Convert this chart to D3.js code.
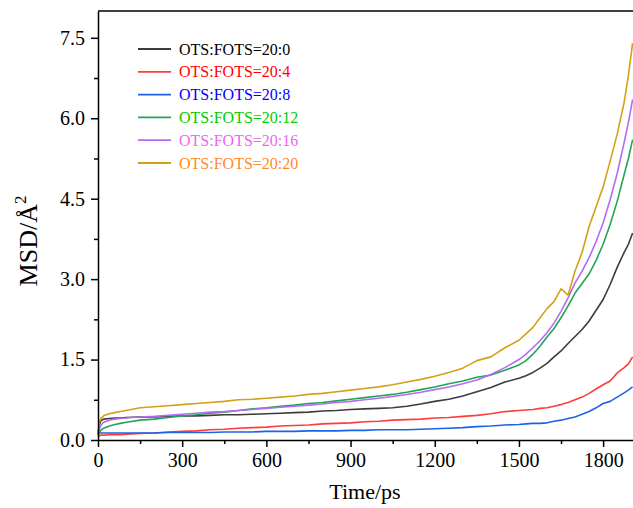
<!DOCTYPE html>
<html>
<head>
<meta charset="utf-8">
<script src="https://cdn.jsdelivr.net/npm/d3@7"></script>
<style>
  body { margin: 0; background: #fff; }
  svg { display: block; }
  text { font-family: "Liberation Serif", "Times New Roman", serif; }
  .axis path, .axis line { stroke: #000; stroke-width: 1.5; }
  .axis text { font-size: 20px; fill: #000; }
  .title { font-size: 22px; fill: #000; }
  .legend text { font-size: 16px; }
</style>
</head>
<body>
<svg id="msd" width="633" height="508"></svg>
<script>
// time axis (ps), shared by all series
var times = [0, 5, 10, 20, 40, 60, 80, 100,
  150, 200, 250, 300, 350, 400, 450, 500, 550, 600, 650, 700, 750, 800, 850, 900, 950, 1000, 1050, 1100, 1150, 1200,
  1250, 1300, 1350, 1400, 1450, 1500, 1525, 1550, 1575, 1600, 1625, 1650, 1675, 1700, 1725, 1750, 1775, 1800, 1825, 1850, 1875, 1890, 1905];

var ratio_20_0 = [0.10, 0.28, 0.36, 0.39, 0.40, 0.41, 0.41, 0.42,
  0.43, 0.43, 0.44, 0.45, 0.45, 0.46, 0.47, 0.47, 0.48, 0.49, 0.50, 0.51, 0.52, 0.54, 0.55, 0.57, 0.58, 0.59, 0.60, 0.63, 0.67, 0.72,
  0.76, 0.82, 0.90, 0.98, 1.08, 1.15, 1.20, 1.26, 1.34, 1.43, 1.55, 1.66, 1.80, 1.93, 2.06, 2.22, 2.42, 2.62, 2.90, 3.22, 3.50, 3.65, 3.86];

var ratio_20_4 = [0.08, 0.08, 0.09, 0.09, 0.10, 0.10, 0.10, 0.11,
  0.12, 0.13, 0.15, 0.16, 0.17, 0.19, 0.20, 0.22, 0.23, 0.24, 0.26, 0.27, 0.28, 0.30, 0.31, 0.32, 0.34, 0.35, 0.37, 0.38, 0.39, 0.41,
  0.42, 0.44, 0.46, 0.49, 0.53, 0.55, 0.56, 0.57, 0.59, 0.60, 0.63, 0.66, 0.70, 0.75, 0.80, 0.87, 0.95, 1.03, 1.10, 1.25, 1.35, 1.42, 1.55];

var ratio_20_8 = [0.12, 0.13, 0.13, 0.13, 0.13, 0.13, 0.13, 0.13,
  0.13, 0.13, 0.14, 0.14, 0.14, 0.14, 0.15, 0.15, 0.15, 0.16, 0.16, 0.16, 0.17, 0.17, 0.17, 0.18, 0.18, 0.19, 0.19, 0.19, 0.20, 0.21,
  0.22, 0.23, 0.25, 0.26, 0.28, 0.29, 0.30, 0.31, 0.31, 0.32, 0.35, 0.37, 0.40, 0.43, 0.48, 0.53, 0.60, 0.68, 0.72, 0.80, 0.88, 0.93, 0.99];

var ratio_20_12 = [0.10, 0.14, 0.18, 0.22, 0.26, 0.29, 0.31, 0.33,
  0.37, 0.39, 0.42, 0.45, 0.47, 0.50, 0.52, 0.55, 0.58, 0.60, 0.63, 0.65, 0.68, 0.70, 0.73, 0.76, 0.79, 0.82, 0.85, 0.89, 0.94, 0.99,
  1.05, 1.10, 1.17, 1.21, 1.30, 1.40, 1.48, 1.60, 1.75, 1.92, 2.08, 2.28, 2.50, 2.74, 2.92, 3.10, 3.35, 3.65, 4.02, 4.45, 4.95, 5.25, 5.60];

var ratio_20_16 = [0.10, 0.20, 0.27, 0.33, 0.37, 0.39, 0.40, 0.41,
  0.43, 0.44, 0.46, 0.48, 0.50, 0.52, 0.53, 0.55, 0.57, 0.59, 0.61, 0.63, 0.65, 0.67, 0.70, 0.72, 0.75, 0.78, 0.81, 0.85, 0.89, 0.94,
  0.99, 1.05, 1.12, 1.22, 1.35, 1.50, 1.60, 1.72, 1.85, 2.00, 2.18, 2.40, 2.65, 2.93, 3.15, 3.40, 3.70, 4.05, 4.48, 4.97, 5.55, 5.92, 6.35];

var ratio_20_20 = [0.12, 0.32, 0.40, 0.45, 0.49, 0.51, 0.53, 0.55,
  0.60, 0.62, 0.64, 0.66, 0.68, 0.70, 0.72, 0.75, 0.76, 0.78, 0.80, 0.82, 0.85, 0.87, 0.90, 0.93, 0.96, 0.99, 1.03, 1.08, 1.13, 1.19,
  1.26, 1.34, 1.48, 1.55, 1.72, 1.86, 1.98, 2.10, 2.28, 2.45, 2.58, 2.82, 2.70, 3.15, 3.50, 3.98, 4.35, 4.72, 5.20, 5.70, 6.30, 6.80, 7.40];

var labels = ["OTS:FOTS=20:0", "OTS:FOTS=20:4", "OTS:FOTS=20:8", "OTS:FOTS=20:12", "OTS:FOTS=20:16", "OTS:FOTS=20:20"];
var lineColors = ["#3c3c3c", "#ff3b3b", "#1d63e6", "#21a554", "#b56cf0", "#d4a017"];
var textColors = ["#000000", "#ff0000", "#0000ff", "#00cc00", "#ee66ee", "#ff8a2a"];

var xTicks = [0, 300, 600, 900, 1200, 1500, 1800];
var yTicks = [0, 1.5, 3.0, 4.5, 6.0, 7.5];

var series = [ratio_20_0, ratio_20_4, ratio_20_8, ratio_20_12, ratio_20_16, ratio_20_20];

var svg = d3.select("#msd"),
    margin = {top: 11, right: -1, bottom: 68, left: 98},
    width = svg.attr("width") - margin.left - margin.right,
    height = svg.attr("height") - margin.top - margin.bottom;

var x = d3.scaleLinear().domain([0, 1910]).range([0, width]),
    y = d3.scaleLinear().domain([0, 8]).range([height, 0]);

var g = svg.append("g")
    .attr("transform", "translate(" + margin.left + "," + margin.top + ")");

var line = d3.line()
    .x(function(d, i) { return x(times[i]); })
    .y(function(d) { return y(d); });

// draw curves
g.selectAll(".curve")
  .data(series)
  .enter().append("path")
    .attr("class", "curve")
    .attr("fill", "none")
    .attr("stroke", function(d, i) { return lineColors[i]; })
    .attr("stroke-width", 1.6)
    .attr("stroke-linejoin", "round")
    .attr("d", line);

// minor ticks
g.append("g")
    .attr("class", "axis")
    .attr("transform", "translate(0," + height + ")")
    .call(d3.axisBottom(x).tickValues(d3.range(150, 1900, 300)).tickSize(4).tickFormat(""))
    .select(".domain").remove();

g.append("g")
    .attr("class", "axis")
    .call(d3.axisLeft(y).tickValues(d3.range(0.75, 8, 1.5)).tickSize(4).tickFormat(""))
    .select(".domain").remove();

// major axes
g.append("g")
    .attr("class", "axis axis--x")
    .attr("transform", "translate(0," + height + ")")
    .call(d3.axisBottom(x).tickValues(xTicks).tickFormat(d3.format("d")).tickSize(7).tickSizeOuter(0).tickPadding(6));

g.append("g")
    .attr("class", "axis axis--y")
    .call(d3.axisLeft(y).tickValues(yTicks).tickFormat(d3.format(".1f")).tickSize(7).tickSizeOuter(0).tickPadding(6));

// top frame line
g.append("line")
    .attr("x1", 0).attr("x2", width)
    .attr("y1", 0).attr("y2", 0)
    .attr("stroke", "#000")
    .attr("stroke-width", 1.5);

// axis titles
svg.append("text")
    .attr("class", "title")
    .attr("text-anchor", "middle")
    .attr("transform", "translate(" + [365, 499] + ")")
    .text("Time/ps");

var yt = svg.append("text")
    .attr("class", "title")
    .attr("text-anchor", "middle")
    .style("font-size", "26px")
    .attr("transform", "translate(" + [37, 241] + ") rotate(-90)");
yt.append("tspan").text("MSD/Å");
yt.append("tspan").attr("dy", -11).attr("font-size", "17px").text("2");

// legend
var legend = svg.append("g")
    .attr("class", "legend")
    .selectAll("g")
    .data(labels)
    .enter().append("g")
      .attr("transform", function(d, i) { return "translate(138," + (49 + i * 22.8) + ")"; });

legend.append("line")
    .attr("x1", 0).attr("x2", 33)
    .attr("stroke", function(d, i) { return lineColors[i]; })
    .attr("stroke-width", 1.8);

legend.append("text")
    .attr("x", 41)
    .attr("dy", "0.35em")
    .attr("fill", function(d, i) { return textColors[i]; })
    .text(function(d) { return d; });
</script>
</body>
</html>
